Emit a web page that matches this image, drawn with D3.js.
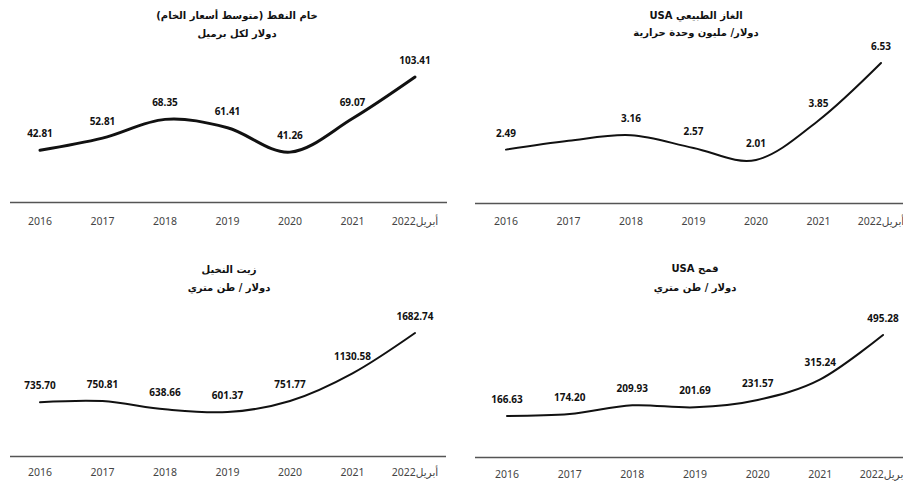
<!DOCTYPE html>
<html>
<head>
<meta charset="utf-8">
<script src="https://cdn.jsdelivr.net/npm/d3@7"></script>
<style>
  body { margin: 0; background: #fff; }
  svg { display: block; }
  .title { font-family: "DejaVu Sans", sans-serif; font-weight: bold; font-size: 10px; fill: #111; }
  .value { font-family: "Noto Sans", sans-serif; font-weight: bold; font-size: 10px; fill: #111; }
  .tick-label { font-family: "Noto Sans", "DejaVu Sans", sans-serif; font-size: 10.5px; fill: #444; }
</style>
</head>
<body>
<div id="chart-container"></div>
<script>
// data
const years = ["2016", "2017", "2018", "2019", "2020", "2021", "2022"];
const yearLabels = ["2016", "2017", "2018", "2019", "2020", "2021", "أبريل2022"];

const oilValues = [42.81, 52.81, 68.35, 61.41, 41.26, 69.07, 103.41];
const gasValues = [2.49, 2.9, 3.16, 2.57, 2.01, 3.85, 6.53];
const palmValues = [735.70, 750.81, 638.66, 601.37, 751.77, 1130.58, 1682.74];
const wheatValues = [166.63, 174.20, 209.93, 201.69, 231.57, 315.24, 495.28];

// 2017 gas label is missing in the picture
const gasShown = [true, false, true, true, true, true, true];

const titles = ["خام النفط (متوسط أسعار الخام)", "الغاز الطبيعي USA", "زيت النخيل", "قمح USA"];
const subtitles = ["دولار لكل برميل", "دولار/ مليون وحدة حرارية", "دولار / طن متري", "دولار / طن متري"];

const width = 903;
const height = 483;

const svg = d3.select("#chart-container")
    .append("svg")
        .attr("width", width)
        .attr("height", height);

// panel layout (positions only)
const panels = [
    {values: oilValues, shown: null, x0: 10, x1: 447, base: 202, xr: [40, 415], top: 77, tx: 237, ty: 19, sy: 37, ky: 225, sw: 3},
    {values: gasValues, shown: gasShown, x0: 475, x1: 903, base: 203, xr: [506, 881], top: 63, tx: 696, ty: 19, sy: 36, ky: 225, sw: 2},
    {values: palmValues, shown: null, x0: 10, x1: 446, base: 456, xr: [40, 415], top: 333, tx: 229, ty: 273, sy: 291, ky: 476, sw: 2},
    {values: wheatValues, shown: null, x0: 475, x1: 903, base: 457, xr: [507, 883], top: 335, tx: 695, ty: 272, sy: 291, ky: 478, sw: 2}
];

panels.forEach((p, i) => {
    const g = svg.append("g");

    const xScale = d3.scalePoint()
        .domain(years)
        .range(p.xr);
    const yScale = d3.scaleLinear()
        .domain([0, d3.max(p.values)])
        .range([p.base, p.top]);

    // titles
    g.append("text")
        .attr("class", "title")
        .attr("x", p.tx)
        .attr("y", p.ty)
        .attr("direction", "rtl")
        .style("text-anchor", "middle")
        .text(titles[i]);
    g.append("text")
        .attr("class", "title")
        .attr("x", p.tx)
        .attr("y", p.sy)
        .attr("direction", "rtl")
        .style("text-anchor", "middle")
        .text(subtitles[i]);

    // baseline
    g.append("line")
        .attr("x1", p.x0)
        .attr("x2", p.x1)
        .attr("y1", p.base + 0.5)
        .attr("y2", p.base + 0.5)
        .attr("stroke", "#555")
        .attr("stroke-width", 1.5);

    // x tick labels
    g.selectAll(".tick-label")
        .data(years)
        .join("text")
            .attr("class", "tick-label")
            .attr("x", d => xScale(d))
            .attr("y", p.ky)
            .attr("direction", (d, j) => j === years.length - 1 ? "rtl" : "ltr")
            .style("text-anchor", "middle")
            .text((d, j) => yearLabels[j]);

    // smooth line
    const line = d3.line()
        .x((d, j) => xScale(years[j]))
        .y(d => yScale(d))
        .curve(d3.curveCardinal.tension(0));
    g.append("path")
        .datum(p.values)
        .attr("d", line)
        .attr("fill", "none")
        .attr("stroke", "#111")
        .attr("stroke-width", p.sw)
        .attr("stroke-linecap", "round");

    // value labels
    g.selectAll(".value")
        .data(p.values.filter((d, j) => !p.shown || p.shown[j]))
        .join("text")
            .attr("class", "value")
            .attr("x", d => xScale(years[p.values.indexOf(d)]))
            .attr("y", d => yScale(d) - 13)
            .style("text-anchor", "middle")
            .text(d => d.toFixed(2));
});
</script>
</body>
</html>
